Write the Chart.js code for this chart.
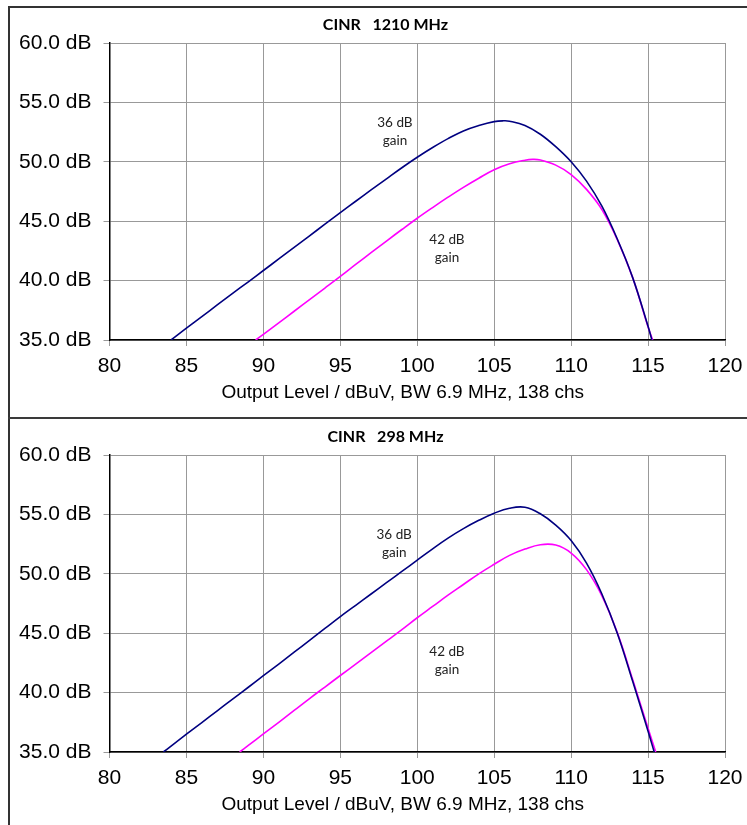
<!DOCTYPE html>
<html>
<head>
<meta charset="utf-8">
<script src="https://cdn.jsdelivr.net/npm/chart.js@4/dist/chart.umd.min.js"></script>
<style>
  html, body { margin: 0; padding: 0; background: #fff; overflow: hidden; width: 747px; height: 825px; }
  .box { position: absolute; left: 9px; width: 753px; height: 410px; }
  .line { position: absolute; background: #333; }
</style>
</head>
<body>
<div class="line" style="left:8px; top:6px; width:760px; height:1.5px;"></div>
<div class="line" style="left:8px; top:6px; width:1.5px; height:830px;"></div>
<div class="line" style="left:8px; top:417px; width:760px; height:2px; background:#3a3a3a;"></div>
<div class="box" style="top:7px;"><canvas id="chartTop"></canvas></div>
<div class="box" style="top:419px;"><canvas id="chartBottom"></canvas></div>
<script>
  // x axis: output level in dBuV, y axis: CINR in dB
  var xTicks = [80, 85, 90, 95, 100, 105, 110, 115, 120];
  var yTicks = [35, 40, 45, 50, 55, 60];
  var xTitle = 'Output Level / dBuV, BW 6.9 MHz, 138 chs';

  // 1210 MHz
  var top36x = [84.0, 85, 86, 87, 88, 89, 90, 91, 92, 93, 94, 95, 96, 97, 98, 99, 100, 101, 102, 103, 104, 105, 105.6, 106, 107, 108, 109, 110, 111, 112, 113, 114, 115, 115.25];
  var top36y = [35.0, 36.0, 36.97, 37.95, 38.92, 39.88, 40.85, 41.82, 42.8, 43.77, 44.75, 45.72, 46.68, 47.63, 48.57, 49.5, 50.38, 51.2, 51.95, 52.6, 53.05, 53.38, 53.45, 53.42, 53.06, 52.32, 51.27, 50.0, 48.37, 46.26, 43.5, 40.25, 36.15, 35.0];
  var top42x = [89.5, 90, 91, 92, 93, 94, 95, 96, 97, 98, 99, 100, 101, 102, 103, 104, 105, 106, 107, 107.5, 108, 109, 110, 111, 112, 113, 114, 115, 115.3];
  var top42y = [35.0, 35.48, 36.45, 37.42, 38.4, 39.37, 40.35, 41.36, 42.35, 43.33, 44.3, 45.25, 46.15, 47.02, 47.85, 48.62, 49.33, 49.83, 50.13, 50.2, 50.15, 49.72, 48.93, 47.68, 45.98, 43.45, 40.25, 36.1, 35.0];

  // 298 MHz
  var bot36x = [83.5, 84, 85, 86, 87, 88, 89, 90, 91, 92, 93, 94, 95, 96, 97, 98, 99, 100, 101, 102, 103, 104, 105, 106, 107, 108, 109, 110, 111, 112, 113, 114, 115, 115.4];
  var bot36y = [35.0, 35.5, 36.5, 37.48, 38.47, 39.45, 40.43, 41.42, 42.4, 43.4, 44.4, 45.4, 46.4, 47.35, 48.3, 49.25, 50.2, 51.15, 52.1, 53.0, 53.8, 54.5, 55.1, 55.52, 55.6, 55.05, 54.1, 52.8, 50.9, 48.3, 45.0, 40.95, 36.75, 35.0];
  var bot42x = [88.46, 89, 90, 91, 92, 93, 94, 95, 96, 97, 98, 99, 100, 101, 102, 103, 104, 105, 106, 107, 108, 109, 110, 111, 112, 113, 114, 115, 115.5];
  var bot42y = [35.0, 35.53, 36.52, 37.5, 38.5, 39.5, 40.47, 41.44, 42.4, 43.37, 44.33, 45.3, 46.3, 47.25, 48.2, 49.1, 50.0, 50.8, 51.55, 52.08, 52.45, 52.42, 51.75, 50.35, 48.15, 45.05, 41.1, 37.0, 35.0];

  // curve labels, anchored in data coordinates
  var noteText = [['36 dB', 'gain'], ['42 dB', 'gain']];
  var noteTopX = [98.55, 101.93];
  var noteTopY = [53.26, 43.43];
  var noteBotX = [98.5, 101.93];
  var noteBotY = [53.26, 43.43];

  function toPoints(xs, ys) {
    var pts = [];
    for (var i = 0; i < xs.length; i++) pts.push({x: xs[i], y: ys[i]});
    return pts;
  }

  // chart title and axis title sit off the plot centre, as in the original sheet
  var textPlugin = {
    id: 'texts',
    afterDatasetsDraw: function(chart, args, opts) {
      var ctx = chart.ctx;
      var area = chart.chartArea;
      ctx.save();
      ctx.fillStyle = '#000';
      ctx.textAlign = 'center';
      ctx.textBaseline = 'middle';
      ctx.font = 'bold 16px Lato, "Open Sans", sans-serif';
      ctx.fillText(opts.title, 376.5, 17.5);
      ctx.font = '19px "Liberation Sans", Arial, sans-serif';
      ctx.fillText(xTitle, (area.left + area.right) / 2 - 14.5, area.bottom + 53);

      ctx.font = '13.5px Lato, "Open Sans", sans-serif';
      ctx.fillStyle = '#222';
      for (var i = 0; i < noteText.length; i++) {
        var px = chart.scales.x.getPixelForValue(opts.xs[i]);
        var py = chart.scales.y.getPixelForValue(opts.ys[i]);
        for (var j = 0; j < noteText[i].length; j++) {
          ctx.fillText(noteText[i][j], px, py + j * 17.5);
        }
      }
      ctx.restore();
    }
  };

  function makeChart(id, title, a36, a42, nx, ny) {
    var ctx = document.getElementById(id).getContext('2d');
    return new Chart(ctx, {
      type: 'line',
      data: {
        datasets: [{
          label: '36 dB gain',
          data: a36,
          borderColor: '#000080',
          borderWidth: 1.6,
          pointRadius: 0,
          tension: 0.4,
          fill: false
        }, {
          label: '42 dB gain',
          data: a42,
          borderColor: '#ff00ff',
          borderWidth: 1.6,
          pointRadius: 0,
          tension: 0.4,
          fill: false
        }]
      },
      options: {
        responsive: true,
        maintainAspectRatio: false,
        animation: false,
        layout: { padding: { left: 0, right: 37, top: 36, bottom: 0 } },
        plugins: {
          legend: { display: false },
          tooltip: { enabled: false },
          title: { display: false },
          texts: { title: title, xs: nx, ys: ny }
        },
        scales: {
          x: {
            type: 'linear',
            min: xTicks[0],
            max: xTicks[xTicks.length - 1],
            afterFit: function(s) { s.height = 77; },
            afterBuildTicks: function(s) { s.ticks = xTicks.map(function(v) { return {value: v}; }); },
            ticks: {
              color: '#000',
              padding: 8,
              maxRotation: 0,
              font: { family: '"Liberation Sans", Arial, sans-serif', size: 21 }
            },
            grid: { color: '#999', tickColor: '#999', tickLength: 6, lineWidth: 1 },
            border: { color: '#000', width: 1.5 }
          },
          y: {
            min: yTicks[0],
            max: yTicks[yTicks.length - 1],
            afterFit: function(s) { s.width = 100.5; },
            afterBuildTicks: function(s) { s.ticks = yTicks.map(function(v) { return {value: v}; }); },
            ticks: {
              color: '#000',
              padding: 12,
              font: { family: '"Liberation Sans", Arial, sans-serif', size: 21 },
              callback: function(v) { return v.toFixed(1) + ' dB'; }
            },
            grid: { color: '#999', tickColor: '#999', tickLength: 6, lineWidth: 1 },
            border: { color: '#000', width: 1.5 }
          }
        }
      },
      plugins: [textPlugin]
    });
  }

  makeChart('chartTop', 'CINR   1210 MHz', toPoints(top36x, top36y), toPoints(top42x, top42y), noteTopX, noteTopY);
  makeChart('chartBottom', 'CINR   298 MHz', toPoints(bot36x, bot36y), toPoints(bot42x, bot42y), noteBotX, noteBotY);
</script>
</body>
</html>
